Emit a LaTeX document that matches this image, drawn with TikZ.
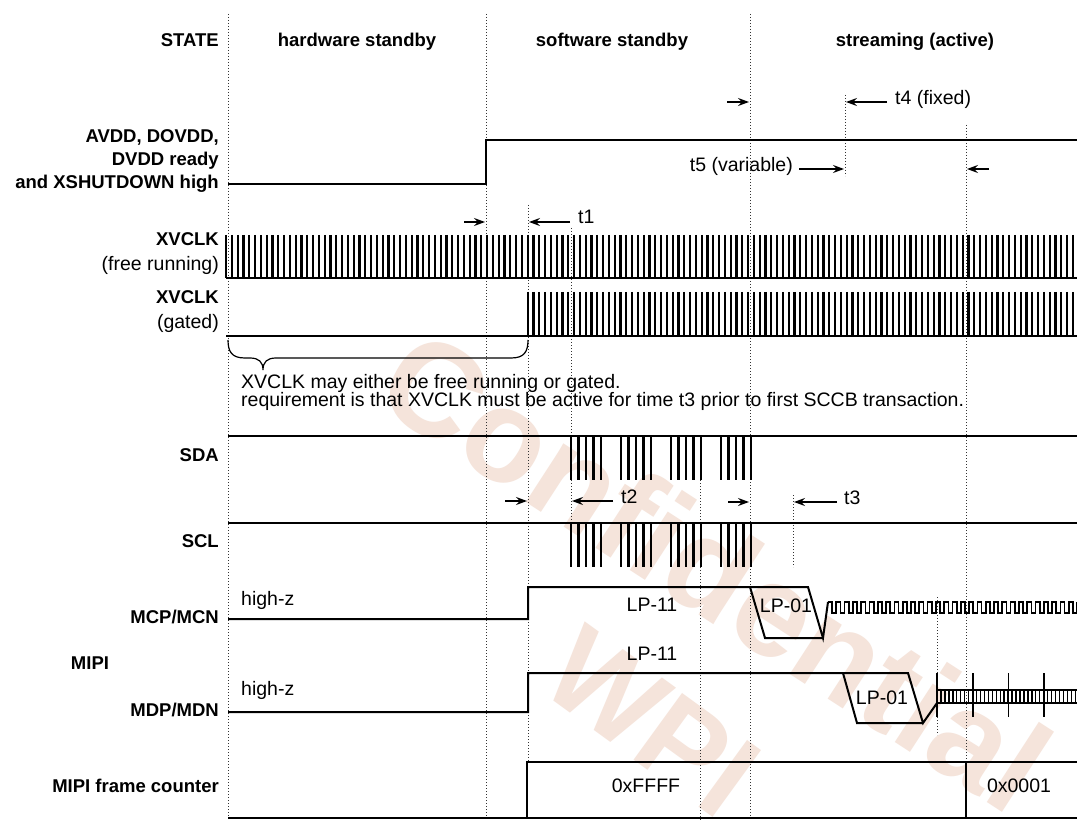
\documentclass[tikz,border=0pt]{standalone}
\usepackage{fontspec}
\setmainfont{Liberation Sans}
\usetikzlibrary{arrows.meta}
\definecolor{wmc}{HTML}{F5E4DB}
\definecolor{dotc}{HTML}{333333}
\begin{document}
\begin{tikzpicture}[x=1pt,y=-1pt,
  wave/.style={line width=2pt,line join=miter},
  bar/.style={line width=2.2pt},
  sq/.style={line width=1.7pt,line join=miter},
  dotline/.style={line width=0.8pt,dash pattern=on 1pt off 2pt,draw=dotc},
  tarr/.style={line width=1.1pt,-{Stealth[length=11pt,width=8pt,inset=4pt]}},
  lbl/.style={font=\fontsize{18.5}{21}\selectfont\bfseries,anchor=mid east,inner sep=0pt},
  hdr/.style={font=\fontsize{18.5}{21}\selectfont\bfseries,anchor=mid,inner sep=0pt},
  sub/.style={font=\fontsize{19.5}{22}\selectfont,anchor=mid east,inner sep=0pt},
  txt/.style={font=\fontsize{19.5}{22}\selectfont,anchor=mid,inner sep=0pt},
  wtxt/.style={font=\fontsize{19.5}{22}\selectfont,anchor=mid west,inner sep=0pt},
  wm/.style={font=\fontsize{132}{132}\selectfont\bfseries,text=wmc,inner sep=0pt}
]
\useasboundingbox[fill=white] (0,0) rectangle (1077,821);

% watermark
\node[wm,rotate=-33] (wm1) at (716,570) {Confidential};
\node[wm,rotate=-36,font=\fontsize{120}{120}\selectfont\bfseries] (wm2) at (652,722) {WPI};

% dotted guide lines
\draw[dotline] (228,14) -- (228,821);
\draw[dotline] (486,14) -- (486,821);
\draw[dotline] (750,14) -- (750,821);
\draw[dotline] (845,95) -- (845,176);
\draw[dotline] (966,125) -- (966,762);
\draw[dotline] (528,205) -- (528,762);
\draw[dotline] (571,228) -- (571,520);
\draw[dotline] (700,480) -- (700,821);
\draw[dotline] (793,495) -- (793,567);
\draw[dotline] (937,597) -- (937,735);

% labels
\node[lbl] (lstate) at (219,44) {STATE};
\node[hdr] (hws) at (357,44) {hardware standby};
\node[hdr] (sws) at (612,44) {software standby};
\node[hdr] (str) at (915,44) {streaming (active)};
\node[lbl] (avdd1) at (219,140) {AVDD, DOVDD,};
\node[lbl] (avdd2) at (219,163) {DVDD ready};
\node[lbl] (avdd3) at (219,186) {and XSHUTDOWN high};
\node[lbl] (xv1) at (219,243) {XVCLK};
\node[sub] (xv1s) at (219,268) {(free running)};
\node[lbl] (xv2) at (219,301) {XVCLK};
\node[sub] (xv2s) at (219,326) {(gated)};
\node[lbl] (sda) at (219,459) {SDA};
\node[lbl] (scl) at (219,545) {SCL};
\node[lbl] (mcp) at (219,621) {MCP/MCN};
\node[hdr] (mipi) at (90,667) {MIPI};
\node[lbl] (mdp) at (219,714) {MDP/MDN};
\node[lbl] (mfc) at (219,790) {MIPI frame counter};

% AVDD
\draw[wave] (228,184) -- (486,184) -- (486,140) -- (1077,140);

% XVCLK free running
\draw[wave] (226,278) -- (1077,278);
\foreach \k in {0,...,146} \draw[bar] ({226+5.8*\k},235) -- ({226+5.8*\k},278);
% XVCLK gated
\draw[wave] (226,336) -- (1077,336);
\foreach \k in {52,...,146} \draw[bar] ({226+5.8*\k},292) -- ({226+5.8*\k},336);

% brace and note
\draw[line width=1.2pt] (228,340) .. controls (228,352) and (232,358) .. (245,358) -- (250,358)
  .. controls (259,358) and (263,362) .. (263,370)
  .. controls (263,362) and (267,358) .. (276,358) -- (511,358)
  .. controls (524,358) and (528,352) .. (528,340);
\node[wtxt] (note1) at (241,386) {XVCLK may either be free running or gated.};
\node[wtxt] (note2) at (241,404) {requirement is that XVCLK must be active for time t3 prior to first SCCB transaction.};

% SDA / SCL
\draw[wave] (228,436) -- (1077,436);
\draw[wave] (228,523) -- (1077,523);
\foreach \g in {0,...,3}{\foreach \j in {0,...,4}{
  \draw[bar] ({571+50*\g+7.5*\j},436) -- ({571+50*\g+7.5*\j},480);
  \draw[bar] ({571+50*\g+7.5*\j},523) -- ({571+50*\g+7.5*\j},567);
}}

% MCP/MCN
\draw[wave] (228,619) -- (528,619) -- (528,587) -- (808,587) -- (823,638) -- (828,602);
\draw[wave] (750,587) -- (765,638) -- (823,638);
\draw[sq] (828,602) \foreach \c in {0,...,29}{ -- ++(4.15,0) -- ++(0,11) -- ++(4.15,0) -- ++(0,-11)};
\node[wtxt] (hz1) at (241,603) {high-z};
\node[txt] (lp11a) at (652,609) {LP-11};
\node[txt] (lp01a) at (786,610) {LP-01};

% MDP/MDN
\draw[wave] (228,712) -- (528,712) -- (528,673) -- (908,673) -- (923,723) -- (937,703);
\draw[wave] (843,673) -- (857,723) -- (923,723);
\draw[sq] (937,690) -- (1077,690) (937,703) -- (1077,703);
\foreach \k in {0,...,35} \draw[line width=1.4pt] ({937+3.95*\k},690) -- ({937+3.95*\k},703);
\foreach \k in {0,...,3} \draw[line width=1.6pt] ({937+35.7*\k},673) -- ({937+35.7*\k},717);
\node[wtxt] (hz2) at (241,693) {high-z};
\node[txt] (lp11b) at (652,658) {LP-11};
\node[txt] (lp01b) at (882,702) {LP-01};

% frame counter
\draw[wave] (228,818) -- (1077,818);
\draw[wave] (527,818) -- (527,762) -- (1077,762);
\draw[wave] (966,762) -- (966,818);
\node[txt] (ffff) at (646,790) {0xFFFF};
\node[txt] (c0001) at (1019,790) {0x0001};

% timing arrows
\coordinate (a1s) at (464,222); \coordinate (a1e) at (485,222);
\coordinate (b1s) at (570,222); \coordinate (b1e) at (529,222);
\draw[tarr] (a1s) -- (a1e);
\draw[tarr] (b1s) -- (b1e);
\node[wtxt] (t1) at (578,221) {t1};

\coordinate (a4s) at (727,102); \coordinate (a4e) at (749,102);
\coordinate (b4s) at (887,102); \coordinate (b4e) at (846,102);
\draw[tarr] (a4s) -- (a4e);
\draw[tarr] (b4s) -- (b4e);
\node[wtxt] (t4) at (895,102) {t4 (fixed)};

\coordinate (a5s) at (799,169); \coordinate (a5e) at (844,169);
\coordinate (b5s) at (989,169); \coordinate (b5e) at (967,169);
\draw[tarr] (a5s) -- (a5e);
\draw[tarr] (b5s) -- (b5e);
\node[font=\fontsize{19.5}{22}\selectfont,anchor=mid east,inner sep=0pt] (t5) at (793,169) {t5 (variable)};

\coordinate (a2s) at (505,501); \coordinate (a2e) at (527,501);
\coordinate (b2s) at (613,501); \coordinate (b2e) at (572,501);
\draw[tarr] (a2s) -- (a2e);
\draw[tarr] (b2s) -- (b2e);
\node[wtxt] (t2) at (621,501) {t2};

\coordinate (a3s) at (728,502); \coordinate (a3e) at (749,502);
\coordinate (b3s) at (837,502); \coordinate (b3e) at (794,502);
\draw[tarr] (a3s) -- (a3e);
\draw[tarr] (b3s) -- (b3e);
\node[wtxt] (t3) at (844,502) {t3};
\end{tikzpicture}
\end{document}
